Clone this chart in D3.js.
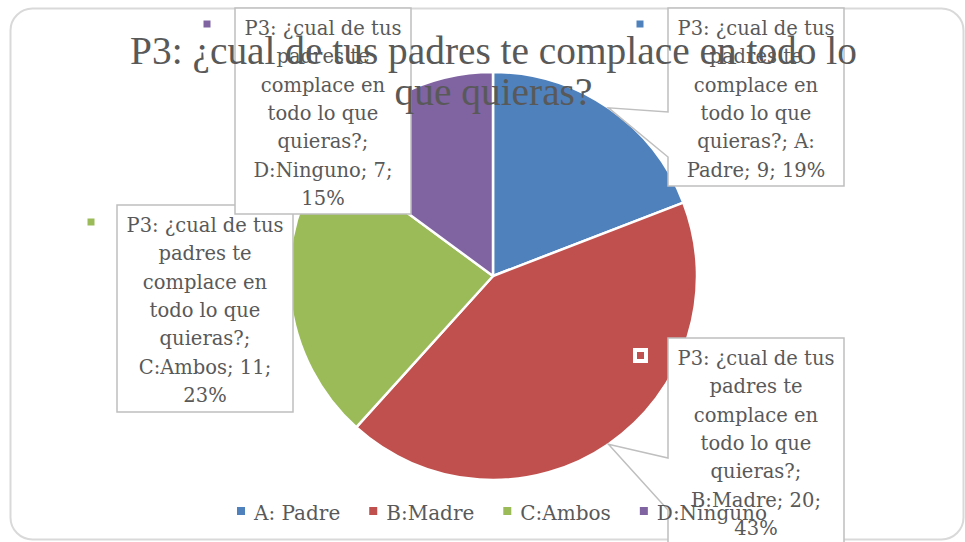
<!DOCTYPE html>
<html>
<head>
<meta charset="utf-8">
<script src="https://cdn.jsdelivr.net/npm/d3@7"></script>
<style>
  html, body { margin: 0; padding: 0; background: #fff; }
  svg { display: block; }
</style>
</head>
<body>
<svg width="965" height="542"></svg>
<script>
// data
const seriesName = "P3: ¿cual de tus padres te complace en todo lo que quieras?";
const titleLines = ["P3: ¿cual de tus padres te complace en todo lo", "que quieras?"];
const categories = ["A: Padre", "B:Madre", "C:Ambos", "D:Ninguno"];
const values = [9, 20, 11, 7];
const colors = ["#4f81bd", "#c0504d", "#9bbb59", "#8064a2"];

// label box layout (x, y, w, h, marker centre, pointer base on left edge)
const labelBoxes = [
    {x: 668, y: 8, w: 176, h: 178, mx: 640, my: 24, base: [112, 157]},
    {x: 668, y: 338, w: 176, h: 206, mx: 640.5, my: 355.5, base: [458, 510]},
    {x: 117, y: 205, w: 176, h: 207, mx: 91, my: 222, base: null},
    {x: 235, y: 8, w: 176, h: 206, mx: 207, my: 24, base: null}
];

const svg = d3.select("svg");
const textColor = "#595959";
const font = "'DejaVu Serif', serif";

// chart border
svg.append("rect")
    .attr("x", 10.5).attr("y", 8.5)
    .attr("width", 953).attr("height", 531)
    .attr("rx", 22)
    .attr("fill", "#fff")
    .attr("stroke", "#d9d9d9")
    .attr("stroke-width", 2);

// pie
const cx = 493, cy = 276, r = 204;
const total = d3.sum(values);
const pie = d3.pie().sort(null).value(d => d)(values);
const arc = d3.arc().innerRadius(0).outerRadius(r);

const g = svg.append("g").attr("transform", `translate(${cx},${cy})`);
g.selectAll("path")
    .data(pie)
    .join("path")
    .attr("d", arc)
    .attr("fill", (d, i) => colors[i])
    .attr("stroke", "#fff")
    .attr("stroke-width", 2.5)
    .attr("stroke-linejoin", "round");

// callout labels
function wrap(str, maxW, size) {
    let tmp = svg.append("text").attr("font-family", font).attr("font-size", size);
    let words = str.split(" ");
    let lines = [];
    let cur = "";
    for (let w of words) {
        let test = cur ? cur + " " + w : w;
        tmp.text(test);
        if (tmp.node().getComputedTextLength() > maxW && cur) {
            lines.push(cur);
            cur = w;
        } else {
            cur = test;
        }
    }
    lines.push(cur);
    tmp.remove();
    return lines;
}

const labels = svg.append("g");
pie.forEach((d, i) => {
    let b = labelBoxes[i];
    let mid = (d.startAngle + d.endAngle) / 2;
    let ax = cx + r * Math.sin(mid), ay = cy - r * Math.cos(mid);
    let p;
    if (b.base) {
        p = `M${b.x},${b.y}H${b.x + b.w}V${b.y + b.h}H${b.x}V${b.base[1]}L${ax},${ay}L${b.x},${b.base[0]}Z`;
    } else {
        p = `M${b.x},${b.y}H${b.x + b.w}V${b.y + b.h}H${b.x}Z`;
    }
    labels.append("path")
        .attr("d", p)
        .attr("fill", "#fff")
        .attr("stroke", "#bfbfbf")
        .attr("stroke-width", 1.5);

    labels.append("rect")
        .attr("x", b.mx - 5.5).attr("y", b.my - 5.5)
        .attr("width", 11).attr("height", 11)
        .attr("fill", colors[i])
        .attr("stroke", "#fff")
        .attr("stroke-width", 4);

    let pct = Math.round(values[i] / total * 100) + "%";
    let str = `${seriesName}; ${categories[i]}; ${values[i]}; ${pct}`;
    let lines = wrap(str, 168, 19.5);
    let t = labels.append("text")
        .attr("font-family", font)
        .attr("font-size", 19.5)
        .attr("fill", textColor)
        .attr("text-anchor", "middle");
    lines.forEach((ln, k) => {
        t.append("tspan")
            .attr("x", b.x + b.w / 2)
            .attr("y", b.y + 27 + k * 28.3)
            .text(ln);
    });
});

// title (condensed to match)
const title = svg.append("g");
const tt = title.append("text")
    .attr("font-family", "'Liberation Serif', serif")
    .attr("font-size", 39)
    .attr("fill", textColor)
    .attr("text-anchor", "middle");
titleLines.forEach((ln, k) => {
    tt.append("tspan").attr("x", 0).attr("y", k * 41).text(ln);
});
let w1 = tt.select("tspan").node().getComputedTextLength();
let k = 727 / w1;
title.attr("transform", `translate(493.5,64) scale(${k},1)`);

// legend
const legend = svg.append("g");
let items = categories.map((c, i) => {
    let it = legend.append("g");
    it.append("rect")
        .attr("x", 0).attr("y", -13)
        .attr("width", 8).attr("height", 8)
        .attr("fill", colors[i]);
    let tx = it.append("text")
        .attr("x", 17).attr("y", 0)
        .attr("font-family", font)
        .attr("font-size", 20)
        .attr("fill", textColor)
        .text(c);
    return {g: it, w: 17 + tx.node().getComputedTextLength()};
});
let lx = 237;
items.forEach(it => {
    it.g.attr("transform", `translate(${lx},520)`);
    lx += it.w + 29;
});
</script>
</body>
</html>
